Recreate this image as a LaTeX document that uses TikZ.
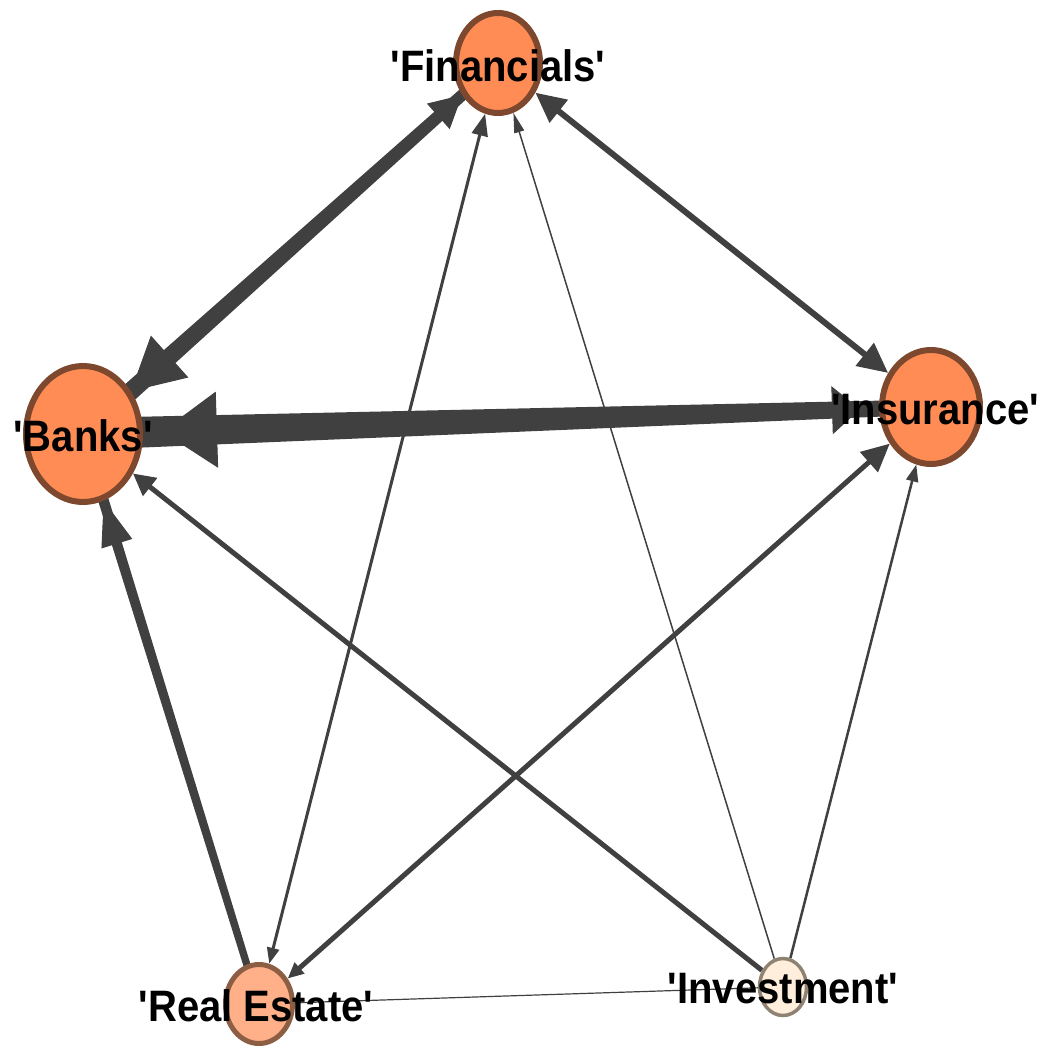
\documentclass[tikz,border=0pt]{standalone}
\usepackage{fontspec}
\setmainfont{Liberation Sans}[Ligatures=TeXOff]
\usetikzlibrary{arrows.meta,shapes.geometric,calc}
\pgfdeclarelayer{background}
\pgfsetlayers{background,main}
\definecolor{edgecol}{HTML}{404040}
\definecolor{orfill}{HTML}{FF8C55}
\definecolor{ordraw}{HTML}{7D482D}
\definecolor{refill}{HTML}{FFB088}
\definecolor{redraw}{HTML}{8C5E44}
\definecolor{invfill}{HTML}{FFEEDB}
\definecolor{invdraw}{HTML}{8E8272}
\newcommand\taperedge[4]{\fill[edgecol] ($(#1)!#3!90:(#2)$) -- ($(#1)!#3!-90:(#2)$) -- ($(#2)!#4!90:(#1)$) -- ($(#2)!#4!-90:(#1)$) -- cycle;}
\newcommand\labtxt[1]{\scalebox{1}[1.1]{#1}}
\begin{document}
\begin{tikzpicture}[x=1pt,y=-1pt,
  vnode/.style={ellipse, draw, line width=6pt, inner sep=0pt},
  lab/.style={font=\bfseries\fontsize{40}{40}\selectfont, text=black, inner sep=0pt},
  edge/.style={draw=edgecol, line cap=butt}]
\useasboundingbox (0,0) rectangle (1040,1046);
\node[vnode, fill=orfill, draw=ordraw, minimum width=84pt, minimum height=100pt,
  label={[lab,yshift=-3pt]center:{\labtxt{'Financials'}}}] (F) at (498,63) {};
\node[vnode, fill=orfill, draw=ordraw, minimum width=114pt, minimum height=136pt,
  label={[lab,yshift=-2pt]center:{\labtxt{'Banks'}}}] (B) at (83,434) {};
\node[vnode, fill=orfill, draw=ordraw, minimum width=98pt, minimum height=114pt,
  label={[lab,xshift=4pt,yshift=-3pt]center:{\labtxt{'Insurance'}}}] (I) at (931,407) {};
\node[vnode, fill=refill, draw=redraw, line width=5pt, minimum width=67pt, minimum height=79pt,
  label={[lab,xshift=-3pt,yshift=-2pt]center:{\labtxt{'Real Estate'}}}] (R) at (259,1004) {};
\node[vnode, fill=invfill, draw=invdraw, line width=3.5pt, minimum width=47pt, minimum height=57pt,
  label={[lab,yshift=-2pt]center:{\labtxt{'Investment'}}}] (V) at (783,987) {};
\begin{pgfonlayer}{background}
\taperedge{I}{B}{7.5pt}{16pt}
\draw[edge, line width=1pt, shorten >=19pt, -{Triangle[length=55pt,width=76pt]}] (I) -- (B);
\draw[edge, line width=1pt, shorten >=19pt, -{Triangle[length=28pt,width=48pt]}] (B) -- (I);
\taperedge{F}{B}{5.5pt}{9.5pt}
\draw[edge, line width=1pt, -{Triangle[length=52pt,width=56pt]}] (F) -- (B);
\draw[edge, line width=1pt, -{Triangle[length=32pt,width=34pt]}] (B) -- (F);
\draw[edge, line width=6pt, {Triangle[length=30pt,width=28pt]}-{Triangle[length=30pt,width=28pt]}] (F) -- (I);
\taperedge{R}{B}{3.5pt}{5.5pt}
\draw[edge, line width=1pt, -{Triangle[length=45pt,width=32pt]}] (R) -- (B);
\draw[edge, line width=5pt, -{Triangle[length=22pt,width=22pt]}] (V) -- (B);
\draw[edge, line width=3pt, {Triangle[length=16pt,width=12pt]}-{Triangle[length=22pt,width=16pt]}] (R) -- (F);
\draw[edge, line width=1.5pt, -{Triangle[length=20pt,width=10pt]}] (V) -- (F);
\draw[edge, line width=5pt, {Triangle[length=16pt,width=14pt]}-{Triangle[length=28pt,width=26pt]}] (R) -- (I);
\draw[edge, line width=2.5pt, -{Triangle[length=17pt,width=12pt]}] (V) -- (I);
\draw[edge, line width=1.2pt] (R) -- (V);
\end{pgfonlayer}
\end{tikzpicture}
\end{document}
